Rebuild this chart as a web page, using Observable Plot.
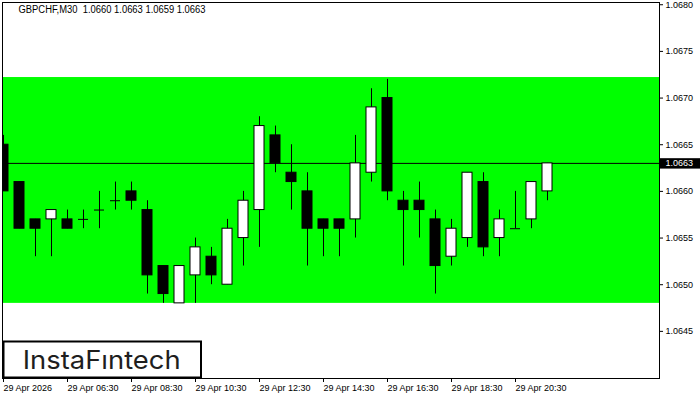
<!DOCTYPE html>
<html><head><meta charset="utf-8">
<script src="https://cdn.jsdelivr.net/npm/d3@7"></script>
<script src="https://cdn.jsdelivr.net/npm/@observablehq/plot@0.6"></script>
<style>
html,body{margin:0;padding:0;background:#fff;}
#chart{width:700px;height:400px;overflow:hidden;}
</style></head><body><div id="chart"></div>
<script>
const symbol = "GBPCHF,M30";
const times = ["04:30","05:00","05:30","06:00","06:30","07:00","07:30","08:00","08:30","09:00",
  "09:30","10:00","10:30","11:00","11:30","12:00","12:30","13:00","13:30","14:00",
  "14:30","15:00","15:30","16:00","16:30","17:00","17:30","18:00","18:30","19:00",
  "19:30","20:00","20:30","21:00","21:30"];
const opens  = [1.0665,1.0661,1.0657,1.0657,1.0657,1.0657,1.0658,1.0659,1.0660,1.0658,
  1.0652,1.0648,1.0651,1.0653,1.0650,1.0655,1.0658,1.0666,1.0662,1.0660,
  1.0657,1.0657,1.0657,1.0662,1.0670,1.0659,1.0659,1.0657,1.0653,1.0655,
  1.0661,1.0655,1.0656,1.0657,1.0660];
const highs  = [1.0666,1.0661,1.0657,1.0658,1.0658,1.0658,1.0660,1.0661,1.0661,1.0659,
  1.0652,1.0652,1.0655,1.0654,1.0657,1.0660,1.0668,1.0667,1.0665,1.0662,
  1.0657,1.0657,1.0666,1.0671,1.0672,1.0660,1.0661,1.0658,1.0657,1.0662,
  1.0662,1.0658,1.0660,1.0661,1.0663];
const lows   = [1.0660,1.0656,1.0653,1.0653,1.0656,1.0656,1.0656,1.0658,1.0658,1.0649,
  1.0648,1.0648,1.0648,1.0650,1.0650,1.0652,1.0654,1.0662,1.0658,1.0652,
  1.0653,1.0653,1.0655,1.0661,1.0659,1.0652,1.0655,1.0649,1.0652,1.0654,
  1.0653,1.0653,1.0656,1.0656,1.0659];
const closes = [1.0660,1.0656,1.0656,1.0658,1.0656,1.0657,1.0658,1.0659,1.0659,1.0651,
  1.0649,1.0652,1.0654,1.0651,1.0656,1.0659,1.0667,1.0663,1.0661,1.0656,
  1.0656,1.0656,1.0663,1.0669,1.0660,1.0658,1.0658,1.0652,1.0656,1.0662,
  1.0654,1.0657,1.0656,1.0661,1.0663];
const xTickTimes  = ["04:30","06:30","08:30","10:30","12:30","14:30","16:30","18:30","20:30"];
const xTickLabels = ["29 Apr 2026","29 Apr 06:30","29 Apr 08:30","29 Apr 10:30","29 Apr 12:30",
  "29 Apr 14:30","29 Apr 16:30","29 Apr 18:30","29 Apr 20:30"];
const yTicks = [1.0645,1.0650,1.0655,1.0660,1.0665,1.0670,1.0675,1.0680];
const zoneLow = 1.0648, zoneHigh = 1.06722;
const brand = "InstaFıntech";

const candles = times.map((t, i) => ({i, t, o: opens[i], h: highs[i], l: lows[i], c: closes[i]}));
const last = candles[candles.length - 1];
const title = `${symbol}\u00a0\u00a0${[last.o, last.h, last.l, last.c].map(v => v.toFixed(4)).join(" ")}`;
const tickIdx = xTickTimes.map(t => times.indexOf(t));
const half = 0.3125;
const font = "'Liberation Sans', Arial, sans-serif";

const chart = Plot.plot({
  width: 700, height: 400,
  marginLeft: 2, marginRight: 41, marginTop: 2, marginBottom: 22,
  style: {fontFamily: font, fontSize: "9px", color: "#000", background: "#fff", overflow: "visible"},
  x: {type: "linear", domain: [-0.0625, 41], axis: null},
  y: {domain: [1.063995, 1.068024], axis: null},
  marks: [
    Plot.rect([{lo: zoneLow, hi: zoneHigh}], {y1: "lo", y2: "hi", fill: "#00ff00"}),
    Plot.ruleY([last.c], {stroke: "#000", strokeWidth: 1}),
    Plot.ruleX(candles, {x: "i", y1: "l", y2: "h", stroke: "#000", strokeWidth: 1, clip: true}),
    Plot.rect(candles.filter(d => d.o !== d.c), {
      x1: d => d.i - half, x2: d => d.i + half, y1: "o", y2: "c",
      fill: d => d.c > d.o ? "#fff" : "#000", stroke: "#000", strokeWidth: 1, clip: true
    }),
    Plot.ruleY(candles.filter(d => d.o === d.c), {
      y: "o", x1: d => d.i - half, x2: d => d.i + half, stroke: "#000", strokeWidth: 1, clip: true
    }),
    Plot.frame({stroke: "#000"}),
    Plot.axisX({ticks: tickIdx, tickFormat: i => xTickLabels[tickIdx.indexOf(i)], tickSize: 4,
      tickPadding: 2, textAnchor: "start", label: null, fontSize: 9}),
    Plot.axisY({anchor: "right", ticks: yTicks, tickFormat: d => d.toFixed(4), tickSize: 3,
      tickPadding: 3, label: null, fontSize: 9}),
    Plot.text([title], {frameAnchor: "top-left", dx: 16, dy: 3.5, text: d => d, fontSize: 10, fill: "#000"})
  ]
});
document.getElementById("chart").appendChild(chart);

const svg = d3.select(chart.tagName.toLowerCase() === "svg" ? chart : chart.querySelector("svg"));

// fit the title width to the reference
svg.selectAll("text").filter(function() { return this.textContent === title; })
  .attr("textLength", 187).attr("lengthAdjust", "spacingAndGlyphs");

// current price box on the right axis
const yPos = chart.scale("y").apply(last.c) + 0.5;
const g = svg.append("g").attr("text-anchor", "start");
g.append("rect").attr("x", 660).attr("y", yPos - 5.2).attr("width", 40).attr("height", 10.4).attr("fill", "#000");
g.append("text").attr("x", 665.5).attr("y", yPos).attr("dy", "0.32em").attr("fill", "#fff")
  .attr("text-anchor", "start").attr("font-family", font).attr("font-size", 9).text(last.c.toFixed(4));

// brand logo box
const logo = svg.append("g").attr("text-anchor", "start");
logo.append("rect").attr("x", 3.5).attr("y", 341.5).attr("width", 197.5).attr("height", 36)
  .attr("fill", "#fff").attr("stroke", "#000").attr("stroke-width", 2);
logo.append("text").attr("x", 22.7).attr("y", 369.3).attr("fill", "#1e1e1e").attr("text-anchor", "start")
  .attr("font-family", "Inter, 'Noto Sans', sans-serif").attr("font-weight", 400).attr("font-size", 25.5)
  .attr("textLength", 158).attr("lengthAdjust", "spacingAndGlyphs").text(brand);
</script></body></html>
